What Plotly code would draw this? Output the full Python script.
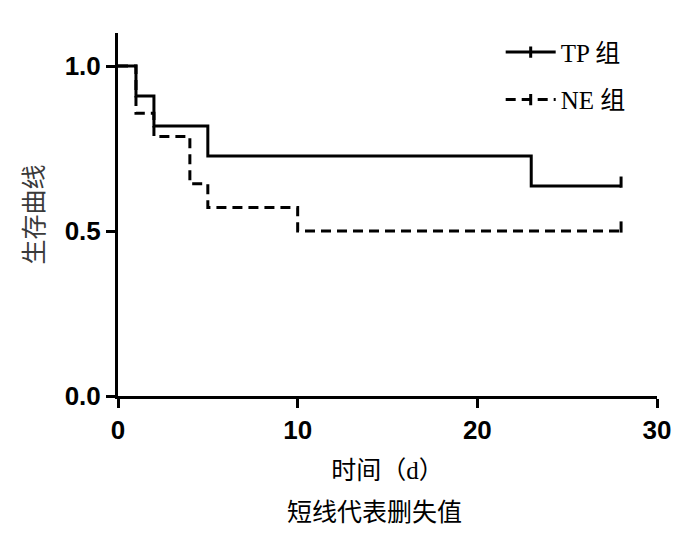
import plotly.graph_objects as go

# Kaplan-Meier step data
tp_time = [0, 1, 2, 5, 23, 28]
tp_surv = [1.0, 0.909, 0.818, 0.727, 0.636, 0.636]
ne_time = [0, 1, 2, 4, 5, 10, 28]
ne_surv = [1.0, 0.857, 0.786, 0.643, 0.571, 0.5, 0.5]
tp_censor_t = [28]
tp_censor_s = [0.636]
ne_censor_t = [28]
ne_censor_s = [0.5]

series_names = ["TP 组", "NE 组"]
x_ticks = [0, 10, 20, 30]
y_ticks = [0.0, 0.5, 1.0]

serif = "Liberation Serif, Noto Sans CJK SC, serif"
LW = 3

fig = go.Figure()

fig.add_trace(go.Scatter(x=tp_time, y=tp_surv, mode="lines", line_shape="hv",
                         line=dict(color="black", width=LW), showlegend=False))
fig.add_trace(go.Scatter(x=ne_time, y=ne_surv, mode="lines", line_shape="hv",
                         line=dict(color="black", width=LW, dash="10px,6px"), showlegend=False))
# censor ticks (pointing upward from the curve)
for ct, cs in ((tp_censor_t, tp_censor_s), (ne_censor_t, ne_censor_s)):
    fig.add_trace(go.Scatter(x=ct, y=cs, mode="markers", showlegend=False, cliponaxis=False,
                             marker=dict(symbol="line-ns", size=8, angle=180, standoff=4,
                                         line=dict(color="black", width=LW))))

# legend entries
for name, dash, grp in ((series_names[0], "solid", "a"), (series_names[1], "10px,6px", "b")):
    fig.add_trace(go.Scatter(x=[None], y=[None], mode="lines+markers", name=name, legendgroup=grp,
                             line=dict(color="black", width=LW, dash=dash),
                             marker=dict(symbol="line-ns", size=8, line=dict(color="black", width=LW))))

axis_common = dict(showline=True, linecolor="black", linewidth=3, ticks="outside",
                   ticklen=9, tickwidth=3, tickcolor="black", showgrid=False, zeroline=False,
                   tickfont=dict(family="Liberation Sans, Arial, sans-serif", size=26,
                                 color="black", weight="bold"))

fig.update_xaxes(range=[0, 30], tickvals=x_ticks, **axis_common,
                 title=dict(text="时间（d）", font=dict(family=serif, size=25, color="black"),
                            standoff=18))
fig.update_yaxes(range=[0, 1.1], tickvals=y_ticks, tickformat=".1f", **axis_common,
                 title=dict(text="生存曲线", font=dict(family=serif, size=25, color="#3a3a3a"),
                            standoff=14))

fig.add_annotation(text="短线代表删失值", xref="paper", yref="paper", x=0.475, y=-0.32,
                   xanchor="center", yanchor="middle", showarrow=False,
                   font=dict(family=serif, size=25, color="black"))

fig.update_layout(
    width=700, height=533,
    margin=dict(l=118, r=43, t=33, b=137),
    plot_bgcolor="white", paper_bgcolor="white",
    legend=dict(x=0.71, y=1.01, xanchor="left", yanchor="top", traceorder="grouped",
                tracegroupgap=12, font=dict(family=serif, size=25, color="black"),
                bgcolor="rgba(0,0,0,0)", itemwidth=50),
)

fig.write_html("out.html", config={"displayModeBar": False},
               post_script="document.body.style.margin='0';")
